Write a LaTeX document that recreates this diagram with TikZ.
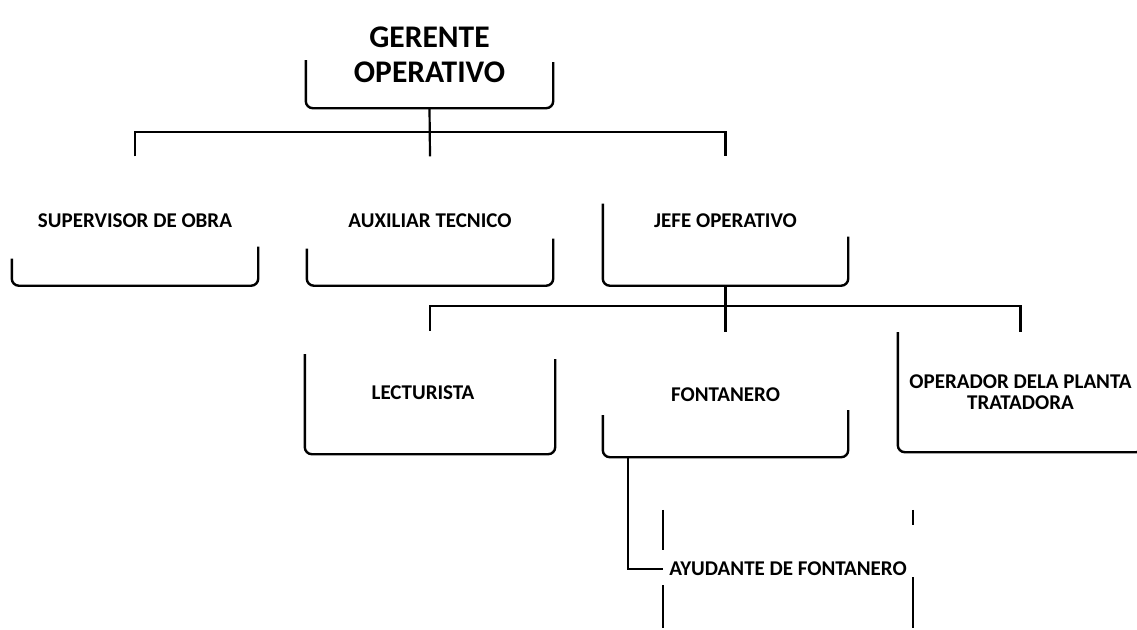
\documentclass[tikz,border=0pt]{standalone}
\usepackage{fontspec}
\setmainfont{Carlito}
\begin{document}
\begin{tikzpicture}[x=1pt,y=-1pt,
  box/.style={rectangle, draw=none, inner sep=0pt, align=center,
    font=\bfseries\fontsize{21}{21}\selectfont},
  bigbox/.style={box, font=\bfseries\fontsize{31.5}{35}\selectfont},
  ubox/.style={line width=2.4pt, rounded corners=7pt},
  conn/.style={line width=2.2pt},
  side/.style={line width=2.4pt}
]
\useasboundingbox (0,0) rectangle (1137,629);
\clip (0,0) rectangle (1137,629);

% boxes (text inside)
\node[bigbox, minimum width=247pt, minimum height=106pt] (ger) at (429.5,55) {GERENTE\\OPERATIVO};
\node[box, minimum width=246pt, minimum height=129pt] (sup) at (135,221) {SUPERVISOR DE OBRA};
\node[box, minimum width=246pt, minimum height=129pt] (aux) at (430,221) {AUXILIAR TECNICO};
\node[box, minimum width=245pt, minimum height=129pt] (jefe) at (725.5,221) {JEFE OPERATIVO};
\node[box, minimum width=250pt, minimum height=123pt] (lec) at (430,392.5) {\hspace*{-14pt}LECTURISTA};
\node[box, minimum width=245pt, minimum height=125pt] (fon) at (725.5,394.5) {FONTANERO};
\node[box, minimum width=245pt, minimum height=120pt] (ope) at (1020.5,392) {OPERADOR DELA PLANTA\\TRATADORA};
\node[box, minimum width=250pt, minimum height=118pt] (ayu) at (788,569) {AYUDANTE DE FONTANERO};

% visible lower outlines of the boxes
\draw[ubox] ([yshift=48pt]ger.south west) |- (ger.south) -| ([yshift=46pt]ger.south east);
\draw[ubox] ([yshift=27pt]sup.south west) |- (sup.south) -| ([yshift=39pt]sup.south east);
\draw[ubox] ([yshift=37pt]aux.south west) |- (aux.south) -| ([yshift=47pt]aux.south east);
\draw[ubox] ([yshift=82pt]jefe.south west) |- (jefe.south) -| ([yshift=49pt]jefe.south east);
\draw[ubox] ([yshift=100pt]lec.south west) |- (lec.south) -| ([yshift=95pt]lec.south east);
\draw[ubox] ([yshift=42pt]fon.south west) |- (fon.south) -| ([yshift=47pt]fon.south east);
\draw[ubox] ([yshift=120pt]ope.south west) |- (ope.south) -| ([yshift=120pt]ope.south east);
\draw[side] (ayu.north west) -- ([yshift=-40pt]ayu.north west);
\draw[side] ([yshift=43pt]ayu.south west) -- (ayu.south west);
\draw[side] (ayu.north east) -- ([yshift=-15pt]ayu.north east);
\draw[side] ([yshift=51pt]ayu.south east) -- (ayu.south east);

% connectors
\coordinate (bus1) at (430,132);
\coordinate (bus2) at (430,306);
\draw[conn] (ger.south) -- (aux.north);
\draw[conn] (sup.north) -- (sup.north |- bus1) -- (jefe.north |- bus1) -- (jefe.north);
\draw[conn] (jefe.south) -- (fon.north);
\draw[conn] (lec.north) -- (lec.north |- bus2) -- (ope.north |- bus2) -- (ope.north);
\draw[conn] ([xshift=25pt]fon.south west) |- (ayu.west);
\end{tikzpicture}
\end{document}
